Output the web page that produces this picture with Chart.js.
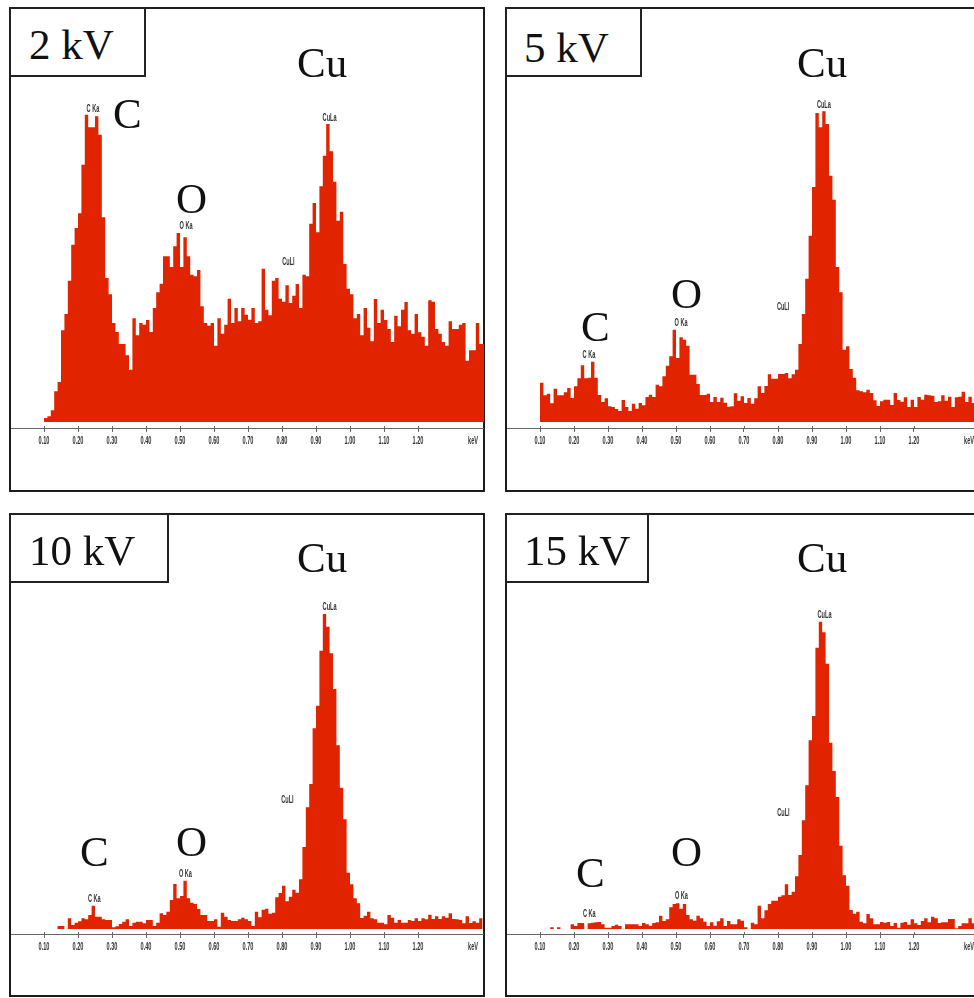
<!DOCTYPE html>
<html>
<head>
<meta charset="utf-8">
<title>EDS spectra</title>
<script src="https://cdn.jsdelivr.net/npm/chart.js@4/dist/chart.umd.min.js"></script>
<style>
  html, body { margin: 0; padding: 0; background: #fff; }
  body { position: relative; width: 974px; height: 998px; overflow: hidden; }
  .frame, .box, .big, canvas { position: absolute; }
  .frame { border: 2px solid #1c1c1c; box-sizing: border-box; }
  .box { border: 2px solid #222; box-sizing: border-box; background: #fff; }
  .big { font: 43px/1 "Liberation Serif", serif; color: #111; white-space: nowrap; }
</style>
</head>
<body>
<script>
// channel counts, one value per 0.01 keV bin starting at 0.10 keV
const counts2kV = [
  12, 17, 35, 92, 120, 275, 324, 424, 532, 582,
  626, 772, 922, 884, 884, 917, 862, 614, 432, 383,
  297, 270, 234, 234, 200, 157, 311, 260, 297, 292,
  306, 270, 342, 389, 415, 497, 497, 465, 527, 567,
  465, 554, 497, 442, 437, 456, 347, 297, 289, 297,
  229, 311, 265, 292, 370, 297, 342, 302, 342, 322,
  307, 342, 297, 302, 460, 337, 320, 424, 432, 370,
  361, 410, 357, 379, 414, 342, 442, 437, 595, 657,
  569, 707, 799, 894, 812, 721, 604, 631, 474, 400,
  383, 311, 324, 260, 342, 283, 242, 369, 297, 337,
  306, 279, 240, 319, 287, 337, 360, 275, 265, 324,
  269, 256, 229, 365, 361, 279, 265, 240, 229, 302,
  279, 279, 292, 297, 184, 215, 215, 297, 234, 234
];
const counts5kV = [
  118, 80, 85, 56, 100, 80, 80, 89, 102, 72,
  107, 131, 170, 131, 133, 181, 133, 81, 60, 71,
  47, 45, 39, 33, 66, 45, 33, 55, 40, 57,
  50, 75, 82, 75, 112, 107, 137, 169, 197, 277,
  192, 254, 247, 229, 142, 142, 114, 81, 81, 85,
  60, 75, 60, 73, 58, 46, 47, 86, 64, 77,
  57, 72, 55, 71, 107, 87, 108, 143, 130, 130,
  144, 144, 147, 131, 143, 157, 234, 324, 430, 559,
  705, 927, 884, 932, 894, 739, 667, 465, 389, 217,
  227, 159, 133, 95, 92, 89, 97, 87, 65, 48,
  62, 67, 67, 51, 87, 66, 61, 74, 45, 67,
  45, 75, 67, 82, 80, 79, 60, 62, 80, 64,
  76, 45, 74, 76, 91, 60, 76, 57
];
const counts10kV = [
  0, 0, 0, 0, 9, 9, 0, 32, 12, 19,
  23, 32, 29, 42, 70, 37, 37, 29, 27, 27,
  5, 8, 15, 22, 29, 9, 19, 22, 22, 17,
  27, 27, 9, 19, 47, 42, 52, 87, 135, 92,
  99, 145, 92, 79, 75, 60, 42, 42, 24, 24,
  29, 7, 49, 37, 27, 24, 24, 29, 34, 29,
  24, 9, 52, 35, 58, 61, 46, 49, 95, 108,
  130, 83, 97, 118, 109, 149, 246, 365, 435, 602,
  670, 835, 945, 907, 827, 720, 551, 424, 329, 169,
  134, 92, 77, 33, 40, 52, 32, 29, 19, 19,
  14, 42, 34, 19, 27, 19, 19, 27, 24, 32,
  24, 32, 29, 43, 30, 38, 30, 38, 34, 47,
  30, 29, 27, 17, 38, 18, 23, 19, 32
];
const counts15kV = [
  0, 0, 0, 5, 0, 5, 0, 0, 0, 14,
  9, 18, 18, 0, 17, 19, 20, 21, 14, 4,
  4, 9, 13, 9, 0, 14, 14, 14, 14, 9,
  18, 14, 10, 18, 20, 40, 24, 29, 65, 75,
  77, 61, 75, 42, 29, 25, 40, 32, 22, 9,
  20, 10, 23, 32, 9, 24, 14, 14, 29, 25,
  5, 0, 19, 14, 70, 32, 56, 75, 85, 85,
  97, 101, 134, 102, 112, 158, 222, 326, 431, 566,
  639, 844, 922, 890, 796, 559, 474, 396, 250, 161,
  130, 57, 46, 52, 22, 17, 45, 32, 14, 14,
  21, 19, 21, 9, 18, 4, 19, 21, 13, 29,
  17, 12, 24, 32, 20, 37, 32, 18, 20, 20,
  30, 30, 2, 9, 17, 17, 32, 17
];

const tickPositions = [0.1, 0.2, 0.3, 0.4, 0.5, 0.6, 0.7, 0.8, 0.9, 1.0, 1.1, 1.2, 1.362];
const tickLabels = ["0.10", "0.20", "0.30", "0.40", "0.50", "0.60", "0.70", "0.80", "0.90", "1.00", "1.10", "1.20", "keV"];

// peak names with the energy and height they are written at
const peakNames = ["C Ka", "O Ka", "CuLa", "CuLl"];
const peakKeV2 = [0.244, 0.518, 0.94, 0.819];
const peakAt2 = [939, 588, 912, 480];
const peakKeV5 = [0.244, 0.515, 0.935, 0.815];
const peakAt5 = [199, 297, 951, 345];
const peakKeV10 = [0.248, 0.516, 0.94, 0.816];
const peakAt10 = [90, 165, 964, 387];
const peakKeV15 = [0.245, 0.516, 0.937, 0.816];
const peakAt15 = [45, 99, 940, 348];

const BAR_RED = "#e12300";
const PX_PER_KEV = 340;
const SMALL_FONT = "bold 10px 'Liberation Sans', sans-serif";
const SMALL_SQUEEZE = 0.56;

const panels = [
  { id: "p2", title: "2 kV", counts: counts2kV, peakKeV: peakKeV2, peakAt: peakAt2,
    frame: [9, 7, 476, 485], box: [9, 7, 137, 70], titleAt: [29, 59],
    canvas: [11, 9, 473, 481], axisGap: 18, bottom: 62,
    big: [["Cu", 297, 77], ["C", 113, 128], ["O", 176, 213]] },
  { id: "p5", title: "5 kV", counts: counts5kV, peakKeV: peakKeV5, peakAt: peakAt5,
    frame: [505, 7, 520, 485], box: [505, 7, 137, 70], titleAt: [524, 62],
    canvas: [507, 9, 467, 481], axisGap: 18, bottom: 62,
    big: [["Cu", 797, 77], ["C", 581, 341], ["O", 671, 308]] },
  { id: "p10", title: "10 kV", counts: counts10kV, peakKeV: peakKeV10, peakAt: peakAt10,
    frame: [9, 513, 476, 484], box: [9, 513, 160, 70], titleAt: [29, 565],
    canvas: [11, 515, 473, 480], axisGap: 15, bottom: 61,
    big: [["Cu", 297, 572], ["C", 80, 866], ["O", 176, 856]] },
  { id: "p15", title: "15 kV", counts: counts15kV, peakKeV: peakKeV15, peakAt: peakAt15,
    frame: [505, 513, 520, 484], box: [505, 513, 144, 70], titleAt: [524, 565],
    canvas: [507, 515, 467, 480], axisGap: 15, bottom: 61,
    big: [["Cu", 797, 572], ["C", 576, 887], ["O", 671, 866]] }
];

const addBox = (className, rect) => {
  const el = document.createElement("div");
  el.className = className;
  el.style.cssText = `left:${rect[0]}px;top:${rect[1]}px;width:${rect[2]}px;height:${rect[3]}px`;
  document.body.appendChild(el);
};

const addBigText = (text, x, baseline) => {
  const el = document.createElement("div");
  el.className = "big";
  el.textContent = text;
  el.style.left = `${x}px`;
  el.style.top = `${baseline - 36}px`;
  document.body.appendChild(el);
};

// the instrument's labels are very narrow, no installed font is, so squeeze them
const narrowText = (ctx, text, x, y) => {
  ctx.save();
  ctx.translate(x, y);
  ctx.scale(SMALL_SQUEEZE, 1);
  ctx.fillText(text, 0, 0);
  ctx.restore();
};

// stubs above the axis line, tick labels and peak names, all placed through the scales
const spectrumExtras = {
  id: "spectrumExtras",
  afterDraw(chart, args, opts) {
    const { ctx, scales } = chart;
    const axisY = scales.x.top;
    ctx.save();
    ctx.strokeStyle = "#666";
    ctx.lineWidth = 1;
    tickPositions.slice(0, 12).forEach((tick) => {
      const px = Math.round(scales.x.getPixelForValue(tick)) + 0.5;
      ctx.beginPath();
      ctx.moveTo(px, axisY - 2);
      ctx.lineTo(px, axisY);
      ctx.stroke();
    });
    ctx.fillStyle = "#333";
    ctx.font = SMALL_FONT;
    ctx.textAlign = "center";
    ctx.textBaseline = "middle";
    scales.x.ticks.forEach((tick, i) => {
      narrowText(ctx, tick.label, scales.x.getPixelForTick(i), axisY + 13);
    });
    peakNames.forEach((name, i) => {
      narrowText(ctx, name, scales.x.getPixelForValue(opts.peakKeV[i]), scales.y.getPixelForValue(opts.peakAt[i]));
    });
    ctx.restore();
  },
};

const drawPanel = (panel) => {
  addBox("frame", panel.frame);

  const canvas = document.createElement("canvas");
  const [left, top, width, height] = panel.canvas;
  canvas.id = panel.id;
  canvas.width = width;
  canvas.height = height;
  canvas.style.cssText = `left:${left}px;top:${top}px;width:${width}px;height:${height}px`;
  document.body.appendChild(canvas);

  const plotHeight = height - panel.bottom;
  // one point per bin left edge, the last value repeated to close the final bin
  const histogram = [...panel.counts, panel.counts[panel.counts.length - 1]].map((count, i) => ({
    x: 0.1 + i * 0.01,
    y: count,
  }));

  const newChart = new Chart(canvas, {
    type: "line",
    data: {
      datasets: [
        {
          label: panel.title,
          data: histogram,
          stepped: "before",
          fill: "origin",
          backgroundColor: BAR_RED,
          borderColor: "rgba(0,0,0,0)",
          borderWidth: 0,
          pointRadius: 0,
        },
      ],
    },
    plugins: [spectrumExtras],
    options: {
      responsive: false,
      animation: false,
      layout: { padding: 0 },
      plugins: {
        legend: { display: false },
        tooltip: { enabled: false },
        spectrumExtras: { peakKeV: panel.peakKeV, peakAt: panel.peakAt },
      },
      scales: {
        x: {
          type: "linear",
          min: 0.1 - 33 / PX_PER_KEV,
          max: 0.1 - 33 / PX_PER_KEV + width / PX_PER_KEV,
          afterBuildTicks: (scale) => {
            scale.ticks = tickPositions.map((value) => ({ value }));
          },
          afterFit: (scale) => {
            scale.height = panel.bottom;
          },
          border: { display: true, color: "#666", width: 1 },
          grid: {
            drawOnChartArea: false,
            tickLength: 4,
            tickColor: (ctx) => (ctx.index === tickPositions.length - 1 ? "rgba(0,0,0,0)" : "#666"),
          },
          ticks: {
            display: false,
            autoSkip: false,
            maxRotation: 0,
            minRotation: 0,
            callback: (value, i) => tickLabels[i],
          },
        },
        y: {
          display: false,
          min: -panel.axisGap,
          max: plotHeight * 3 - panel.axisGap,
        },
      },
    },
  });

  addBox("box", panel.box);
  addBigText(panel.title, panel.titleAt[0], panel.titleAt[1]);
  panel.big.forEach((item) => addBigText(item[0], item[1], item[2]));
  return newChart;
};

panels.forEach(drawPanel);
</script>
</body>
</html>
